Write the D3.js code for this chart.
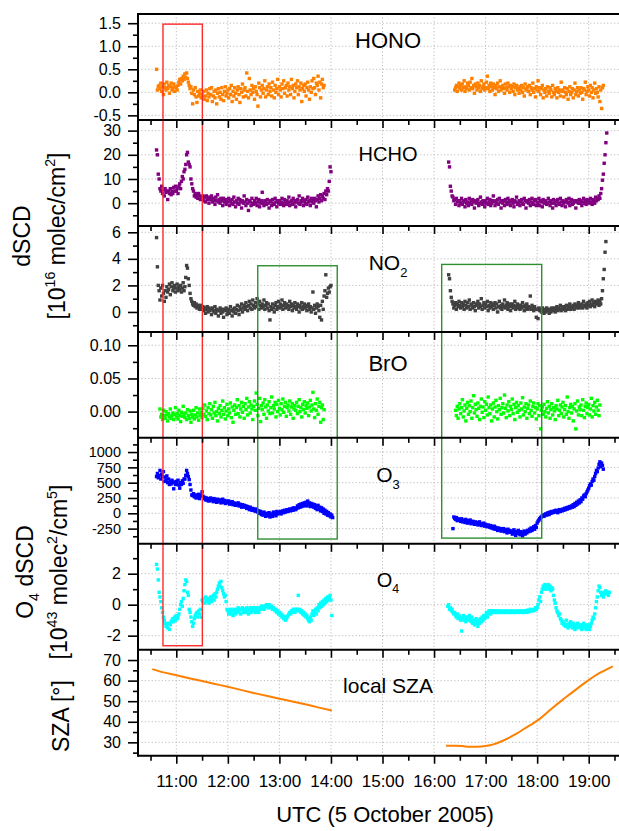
<!DOCTYPE html>
<html>
<head>
<meta charset="utf-8">
<title>dSCD time series, 5 October 2005</title>
<script src="https://d3js.org/d3.v7.min.js"></script>
<style>
  body { margin: 0; background: #fff; }
  svg { display: block; font-family: "Liberation Sans", Arial, sans-serif; }
  .grid line { stroke: #bdbdbd; stroke-width: 1; stroke-dasharray: 1.2,2.2; }
  .tick line { stroke: #000; stroke-width: 1.6; }
  .tick text { font-size: 17px; fill: #000; }
  .frame { stroke: #000; stroke-width: 2; fill: none; }
</style>
</head>
<body>
<div id="chart"></div>
<script>
// ---------------- data (1 value per minute) ----------------
const species = ["HONO", "HCHO", "NO2", "BrO", "O3", "O4"];
const startA = ["10:37", "10:37", "10:37", "10:41", "10:37", "10:37"];
const startB = ["16:24", "16:17", "16:17", "16:25", "16:22", "16:16"];

const honoA = [0.50,0.05,0.12,
  0.15,0.08,0.20,0.02,0.12,-0.05,0.18,0.10,0.05,0.22,
  0.08,0.15,-0.02,0.12,0.20,0.05,0.10,0.18,0.02,0.12,
  0.10,0.05,0.15,0.22,0.28,0.18,0.30,0.25,0.35,0.28,
  0.40,0.32,0.42,0.30,0.22,0.15,0.08,0.12,-0.02,-0.25,
  0.05,-0.05,0.10,-0.10,-0.22,0.02,-0.08,-0.03,0.05,-0.12,
  -0.05,-0.10,0.02,-0.15,-0.08,0.05,-0.18,-0.02,-0.10,0.08,
  -0.05,0.10,-0.20,-0.08,0.02,-0.12,0.05,-0.25,-0.02,0.08,
  -0.10,0.00,-0.15,0.10,-0.05,-0.18,0.02,0.12,-0.08,-0.02,
  0.05,-0.12,0.08,-0.05,0.15,-0.20,0.02,-0.08,0.10,-0.02,
  -0.15,0.05,0.12,-0.05,-0.22,0.08,0.00,0.18,-0.10,0.05,
  0.10,-0.08,0.42,0.02,-0.12,0.30,0.05,-0.05,0.15,0.00,
  0.08,-0.15,0.12,0.02,-0.05,-0.30,0.20,0.10,-0.10,0.05,
  0.15,-0.02,0.08,0.25,-0.10,0.05,0.12,-0.05,0.18,0.02,
  0.10,-0.08,0.22,0.05,-0.12,0.15,0.00,0.08,0.28,-0.05,
  0.12,0.05,-0.10,0.18,0.08,0.25,-0.02,0.10,0.15,-0.08,
  0.20,0.05,0.12,-0.05,0.28,0.08,0.15,-0.12,0.02,0.18,
  0.10,0.25,-0.05,0.12,0.05,0.20,-0.20,0.08,0.15,0.02,
  0.18,-0.08,0.10,0.22,0.05,-0.15,0.12,0.00,0.25,0.08,
  0.30,0.10,-0.05,0.20,0.15,0.35,0.05,0.22,-0.12,0.18,
  0.28,0.10,0.15];
const honoB = [0.05,0.10,0.15,0.02,0.12,0.20,
  0.08,0.15,0.05,0.18,0.10,0.25,0.02,0.12,0.08,0.20,
  0.15,0.05,0.22,0.10,0.30,0.08,0.15,-0.02,0.18,0.12,
  0.05,0.20,0.10,0.15,0.02,0.25,0.08,0.12,0.18,0.05,
  0.10,0.22,0.35,0.08,0.15,0.02,0.20,0.12,0.05,0.18,
  0.10,-0.05,0.15,0.08,0.20,0.02,0.12,0.25,0.05,0.10,
  0.15,0.08,-0.02,0.18,0.10,0.05,0.20,0.12,0.00,0.15,
  0.08,0.12,0.02,0.18,-0.05,0.10,0.15,0.05,0.08,-0.02,
  0.12,0.05,0.15,0.00,0.10,-0.08,0.18,0.05,0.08,0.12,
  0.02,0.15,-0.05,0.10,0.05,0.20,0.00,0.08,-0.10,0.12,
  0.05,0.25,0.02,0.10,-0.05,0.08,0.15,-0.12,0.05,0.00,
  0.08,-0.08,0.12,0.02,-0.02,0.10,0.05,-0.10,0.15,0.00,
  -0.05,0.08,0.02,-0.12,0.10,0.00,0.05,-0.08,0.22,0.02,
  0.05,-0.10,0.10,0.00,-0.05,0.08,-0.15,0.02,0.12,-0.05,
  0.00,0.08,-0.12,0.05,0.20,-0.05,0.02,0.10,-0.08,0.05,
  -0.02,0.10,0.00,-0.15,0.08,0.05,0.22,-0.05,0.02,0.12,
  0.05,-0.08,0.15,0.00,0.10,-0.12,0.05,0.20,-0.02,0.08,
  0.00,-0.10,0.12,-0.20,0.05,-0.35,0.10,0.15];

const hchoA = [22,20,12,
  10,6,5,7,4,5.5,3,6,4.5,5,
  1.5,5,4,6,3.5,5,4,6.5,5,7,
  5,6,4,7,8,6,9,11,10,13,
  14,16,20,21,17,16,15,10,8,6,
  5,3,4,2.5,3.5,2,4,3,1.5,2.5,
  2,3,1,2.5,0.5,3,1.5,2,0,2.5,
  1.5,3,0.5,2,1,-0.5,2.5,1,3.5,0.5,
  1.5,0,2,1,-1,2,0.5,1.5,-0.5,1,
  0.5,2,-1,1,0,1.5,-0.5,2.5,0.5,-1.5,
  1,0,2,-0.5,1.5,0.5,-2,1,0,3,
  0.5,-1,1.5,0,-3,1,0.5,-1,2,0,
  -0.5,1,0,2,-1,0.5,1.5,-1.5,0,1,
  4.5,0,-1,1,0.5,-0.5,1.5,0,-2,1,
  0.5,-1,1.5,0,-0.5,2,0.5,-1.5,1,0,
  1,-0.5,0.5,2,0,-1,1.5,0.5,-0.5,1,
  0,2.5,-1,0.5,1,-0.5,2,0,1,-1.5,
  0.5,1.5,0,3,-0.5,1,0.5,2,-1,1,
  0,1.5,-0.5,2.5,0.5,1,-1,2,0.5,1.5,
  0,2,1,-1.5,1.5,3,0.5,2,3.5,1,
  3,2,4,1.5,5,3.5,6,5,9,15,
  13];
const hchoB = [17,15,7,
  5,3,2.5,1,1.5,-0.5,2,0.5,1,-1,
  1,0,2,-0.5,1,0.5,-1.5,1.5,0,0.5,
  -1,2,0,1,-0.5,1.5,0.5,-2,1,0,
  0.5,1.5,-1,0,2.5,0.5,-0.5,1,0,-1.5,
  1,0,2,-0.5,0.5,1.5,-1,0,1,3,
  0.5,-1,1,0,1.5,-0.5,2,0.5,-2,1,
  0,1,-1,1.5,0.5,-0.5,2,0,1,-1,
  0.5,1.5,0,-1.5,1,0.5,2.5,-0.5,0,1,
  -1,0.5,1.5,0,-0.5,2,1,-2,0.5,1,
  0,1.5,-1,0.5,2,0,-0.5,1,1.5,-1,
  0.5,0,2,-1,1,0.5,-1.5,1.5,0,0.5,
  1,-0.5,0,2,0.5,-1,1,0,-2,1.5,
  0,1,-1,0.5,1.5,0,-0.5,2,0.5,-1,
  1,0,0.5,-1.5,1.5,0.5,0,2,-1,0.5,
  1.5,-0.5,0,1,0.5,-2,1,0.5,0,1.5,
  0,1,-1,0.5,2,0,1,-0.5,1.5,0.5,
  1,0,2,0.5,-0.5,1.5,1,0,2.5,1,
  2,1.5,3,2,4,6,9.5,12,16.5,20,
  25,29];

const no2A = [5.6,3.4,2.0,
  1.6,0.9,1.8,1.2,2.0,1.4,0.8,1.6,1.1,1.9,
  1.5,1.7,2.1,1.3,1.9,2.2,1.6,1.8,2.0,1.5,
  1.8,2.1,1.6,1.9,1.7,2.0,1.5,1.8,2.2,1.6,
  1.9,2.6,3.5,3.3,2.5,2.0,1.4,1.0,0.8,0.6,
  0.5,0.7,0.4,0.6,0.3,0.5,0.4,0.2,0.5,0.3,
  0.2,0.4,0.1,0.3,-0.1,0.2,0.4,0.0,0.3,0.1,
  0.2,-0.2,0.3,0.1,0.0,0.4,-0.1,0.2,0.1,-0.3,
  0.1,0.3,-0.1,0.2,0.0,-0.4,0.2,0.1,0.3,-0.2,
  0.0,0.2,-0.1,0.4,0.1,-0.3,0.2,0.0,0.3,-0.1,
  0.2,0.5,0.1,-0.2,0.4,0.2,0.6,0.0,0.3,0.5,
  0.2,0.7,0.4,0.1,0.5,0.8,0.3,0.6,0.2,0.9,
  0.5,0.3,0.7,0.4,1.0,0.6,0.2,0.8,0.5,0.3,
  0.6,0.4,0.9,0.2,0.5,0.7,0.3,0.6,0.1,-0.6,
  0.4,0.2,0.6,0.3,0.0,0.5,0.7,0.2,0.4,0.8,
  0.3,0.6,0.4,0.9,0.2,0.5,0.7,0.3,0.6,0.4,
  0.5,0.2,0.8,0.4,0.6,0.1,0.5,0.3,0.7,0.4,
  0.2,0.6,0.4,0.0,0.5,0.3,0.7,0.2,0.4,0.6,
  0.3,0.5,0.1,0.4,0.6,0.2,0.4,0.0,0.3,1.5,
  0.2,0.5,-0.1,0.3,0.6,0.4,0.1,-0.4,0.5,-0.6,
  0.8,0.2,1.2,1.6,2.8,1.1,1.4,1.8,1.5,1.9,
  2.0];
const no2B = [2.8,2.5,1.6,
  1.1,0.8,0.6,0.3,0.5,0.7,0.2,0.6,0.4,0.8,
  0.5,0.3,0.7,0.4,0.6,0.2,0.8,0.5,0.3,0.7,
  0.4,0.9,0.2,0.6,0.5,0.3,0.7,0.4,0.1,0.6,
  0.5,0.8,0.3,0.6,0.4,1.0,0.2,0.5,0.7,0.3,
  0.6,0.4,0.8,0.1,0.5,0.3,0.7,0.4,0.6,0.2,
  0.5,0.7,0.3,0.6,0.0,0.4,0.8,0.3,0.5,0.2,
  0.6,0.4,0.9,0.3,0.5,0.7,0.2,0.4,0.6,0.1,
  0.4,0.6,0.3,0.5,0.8,0.2,0.4,0.6,0.3,0.5,
  0.2,0.5,0.3,0.7,0.4,0.1,0.5,0.3,0.6,0.2,
  0.4,0.3,1.2,0.2,0.5,0.3,0.1,0.4,0.2,-0.4,
  0.2,-0.5,0.3,0.1,0.2,0.0,0.3,0.1,-0.1,0.2,
  0.0,0.3,0.1,0.2,-0.1,0.2,0.0,0.3,0.1,0.2,
  0.3,0.0,0.2,0.4,0.1,0.3,0.2,0.5,0.1,0.3,
  0.2,0.4,0.3,0.1,0.5,0.2,0.4,0.3,0.6,0.2,
  0.4,0.3,0.5,0.2,0.6,0.4,0.3,0.5,0.7,0.3,
  0.5,0.4,0.6,0.3,0.8,0.5,0.4,0.6,0.3,0.7,
  0.5,0.8,0.4,0.6,0.9,0.5,0.7,0.4,0.8,0.6,
  0.7,0.9,0.5,0.8,0.6,1.0,1.6,2.5,3.2,4.5,
  5.3];

const broA = [0.004,-0.008,-0.004,-0.012,0.002,-0.006,-0.010,0.000,-0.005,
  -0.014,-0.003,-0.008,0.004,-0.010,-0.006,-0.002,-0.012,-0.004,0.006,
  -0.008,-0.003,-0.011,0.002,-0.006,-0.015,-0.001,-0.007,0.008,-0.004,
  -0.009,-0.002,-0.012,0.003,-0.006,-0.010,0.001,-0.016,-0.004,-0.008,
  0.002,-0.011,-0.005,0.006,-0.008,-0.002,-0.013,0.004,-0.006,-0.001,
  -0.009,0.005,-0.004,0.010,-0.007,0.001,-0.012,0.006,-0.003,0.012,
  -0.005,0.003,-0.010,0.008,-0.002,0.014,-0.006,0.000,-0.014,0.005,
  -0.003,0.009,-0.008,0.002,0.016,-0.004,0.006,-0.011,0.001,0.011,
  -0.006,0.004,-0.002,0.013,-0.009,0.007,-0.016,0.002,0.010,-0.004,
  0.006,0.018,-0.003,0.009,-0.008,0.004,0.014,-0.001,0.008,-0.010,
  0.012,0.003,0.020,-0.005,0.007,0.015,-0.002,0.010,0.004,-0.012,
  0.008,0.016,0.002,0.028,0.011,-0.006,0.005,0.020,-0.015,0.009,
  0.003,0.013,-0.004,0.018,0.007,-0.010,0.010,0.001,0.015,-0.003,
  0.006,0.022,-0.002,0.009,0.004,0.014,-0.008,0.011,0.000,0.017,
  0.005,-0.005,0.012,0.003,0.019,-0.001,0.008,0.014,-0.007,0.006,
  0.010,0.001,0.016,-0.004,0.007,0.012,-0.010,0.004,0.009,0.002,
  0.014,-0.003,0.008,0.018,0.000,0.006,-0.008,0.011,0.003,0.015,
  -0.002,0.009,0.005,0.013,-0.006,0.007,0.017,0.001,0.010,0.029,
  0.004,-0.009,0.012,0.002,0.019,-0.004,0.008,0.014,-0.016,0.006,
  0.010,-0.012,0.003];
const broB = [0.002,-0.006,0.008,-0.010,0.004,
  0.012,-0.003,0.006,0.018,-0.008,0.001,0.010,-0.014,0.005,0.014,
  -0.004,0.009,0.000,0.016,-0.010,0.006,0.024,-0.002,0.011,0.003,
  -0.007,0.013,0.005,-0.012,0.008,0.019,-0.001,0.007,-0.009,0.015,
  0.002,0.011,-0.005,0.022,0.006,-0.003,0.010,-0.014,0.004,0.013,
  -0.008,0.007,0.017,0.000,-0.011,0.009,0.003,0.020,-0.004,0.006,
  0.012,-0.002,0.025,0.005,-0.009,0.010,0.001,0.015,-0.006,0.008,
  0.003,0.019,-0.003,0.011,-0.012,0.006,0.014,-0.001,0.009,0.002,
  -0.008,0.013,0.004,0.021,-0.005,0.007,0.000,0.012,-0.010,0.005,
  0.010,-0.003,0.016,0.002,-0.007,0.008,0.013,-0.002,0.006,-0.011,
  0.004,0.012,-0.006,0.009,-0.026,0.002,0.007,-0.004,0.011,0.000,
  -0.008,0.005,0.015,-0.002,0.008,-0.010,0.003,0.012,-0.005,0.006,
  0.001,-0.012,0.009,0.004,0.017,-0.006,0.002,0.010,-0.003,0.007,
  0.014,-0.008,0.003,0.009,-0.004,0.022,0.000,-0.010,0.006,0.011,
  -0.002,0.008,-0.014,0.004,0.012,-0.026,0.001,0.016,-0.005,0.007,
  0.003,0.010,-0.006,0.018,0.002,-0.009,0.008,0.013,-0.003,0.006,
  0.011,-0.005,0.004,0.020,-0.008,0.009,0.001,0.014,-0.004,0.007,
  0.017,0.002,-0.006,0.010];

const o3A = [600,650,580,
  620,700,560,640,600,680,520,590,540,610,
  500,560,470,520,480,540,500,400,510,470,
  520,480,540,460,410,500,470,530,490,560,
  560,620,700,650,600,550,470,380,300,290,
  320,270,300,250,290,260,310,240,280,300,
  350,280,240,260,220,250,210,240,200,230,
  250,210,230,190,240,220,200,180,230,210,
  190,220,170,200,230,180,210,160,190,200,
  170,200,150,180,160,190,140,170,150,130,
  160,140,170,120,150,130,100,140,110,130,
  100,120,80,110,90,60,100,70,50,80,
  60,40,70,30,50,20,40,0,30,-20,
  10,-30,20,-10,-50,0,-40,-20,10,-60,
  -30,-10,-50,20,-20,0,-40,30,-10,10,
  0,30,-10,20,40,10,50,20,40,60,
  30,50,70,40,60,80,50,90,70,60,
  80,120,90,140,100,150,110,160,120,170,
  130,180,120,200,140,170,110,160,120,150,
  100,140,80,120,60,130,70,100,40,90,
  30,70,0,50,-10,30,-30,10,-40,-10,
  -60,-30,-70];
const o3B = [-250,-60,-80,-100,-70,-120,-90,-110,
  -100,-130,-90,-140,-110,-120,-150,-100,-130,-160,
  -120,-150,-110,-170,-140,-130,-160,-180,-140,-170,
  -150,-190,-160,-140,-180,-200,-170,-190,-160,-210,
  -180,-200,-220,-190,-210,-230,-200,-240,-220,-250,
  -210,-260,-230,-250,-280,-240,-270,-250,-290,-260,
  -280,-250,-300,-270,-290,-320,-260,-300,-280,-310,
  -290,-340,-300,-270,-320,-360,-300,-330,-280,-310,
  -350,-300,-330,-370,-310,-290,-340,-300,-320,-280,
  -300,-260,-290,-240,-280,-250,-220,-260,-200,-230,
  -160,-130,-110,-90,-70,-60,-40,-30,-50,-20,
  -10,-30,0,10,-20,20,0,30,10,20,
  40,20,50,30,10,40,60,30,50,40,
  70,50,80,60,90,70,100,80,110,90,
  120,100,140,110,160,130,180,150,200,170,
  220,190,250,230,280,300,270,320,350,380,
  410,450,480,460,520,560,540,600,650,700,
  680,740,800,840,760,820,780,720];

const o4A = [2.6,2.3,1.6,
  0.8,0.5,0.2,-0.2,-0.5,-0.8,-1.0,-1.2,-1.4,-1.3,
  -1.5,-1.2,-1.6,-1.3,-1.1,-1.0,-0.9,-1.1,-0.8,-1.0,
  -0.7,-0.9,-0.8,-0.6,-0.3,0.0,0.2,-0.1,0.4,0.9,
  1.3,1.6,1.5,0.8,0.6,-0.3,-0.5,-0.8,-1.1,-1.4,
  -1.2,-0.9,-0.7,-0.6,-0.5,-0.8,-0.4,-0.6,-0.3,-0.8,
  0.3,0.2,0.4,0.1,0.5,0.3,0.2,0.4,0.1,0.3,
  0.5,0.2,0.4,0.6,0.3,0.7,0.5,0.8,1.0,1.2,
  1.4,1.2,1.5,1.1,0.9,0.7,0.5,0.6,0.2,-0.3,
  -0.4,-0.6,-0.5,-0.3,-0.6,-0.4,-0.7,-0.3,-0.5,-0.6,
  -0.3,-0.5,-0.2,-0.4,-0.3,-0.6,-0.3,-0.2,-0.5,-0.3,
  -0.3,-0.5,-0.2,-0.4,-0.6,-0.3,-0.2,-0.5,-0.3,-0.2,
  -0.4,-0.2,-0.5,-0.3,-0.2,-0.4,-0.5,-0.2,-0.3,-0.1,
  -0.2,-0.1,-0.3,-0.2,-0.1,0.0,-0.1,-0.2,0.0,-0.1,
  -0.2,-0.1,-0.3,-0.2,-0.3,-0.4,-0.3,-0.5,-0.4,-0.6,
  -0.5,-0.7,-0.6,-0.8,-0.7,-0.9,-0.8,-1.0,-0.9,-0.8,
  -0.7,-0.6,-0.5,-0.6,-0.4,-0.5,-0.3,-0.4,-0.5,-0.3,
  -0.4,-0.3,0.6,-0.4,-0.3,-0.5,-0.4,-0.6,-0.5,-0.7,
  -0.6,-0.8,-0.7,-0.9,-1.0,-1.1,-0.8,-1.0,-0.6,-0.4,
  -0.7,-0.5,-0.3,-0.6,-0.2,-0.4,0.0,-0.2,0.1,-0.1,
  0.2,0.0,0.3,0.1,0.4,0.2,0.5,0.3,0.4,0.6,
  0.3,-0.7];
const o4B = [-0.1,0.0,-0.3,-0.2,
  -0.4,-0.3,-0.5,-0.6,-0.5,-0.7,-0.8,-0.6,-0.9,-0.7,
  -0.8,-1.0,-1.7,-0.9,-0.7,-1.0,-0.8,-1.1,-0.9,-0.8,
  -1.0,-0.7,-0.9,-1.1,-0.8,-1.2,-1.0,-1.3,-1.1,-0.9,
  -1.2,-1.4,-1.0,-1.2,-0.9,-1.1,-0.8,-1.0,-0.7,-0.9,
  -0.7,-0.5,-0.8,-0.6,-0.4,-0.5,-0.6,-0.4,-0.5,-0.4,
  -0.5,-0.4,-0.5,-0.4,-0.5,-0.4,-0.5,-0.45,-0.4,-0.5,
  -0.45,-0.5,-0.4,-0.5,-0.45,-0.4,-0.5,-0.45,-0.5,-0.4,
  -0.5,-0.45,-0.4,-0.5,-0.45,-0.5,-0.4,-0.45,-0.5,-0.4,
  -0.45,-0.5,-0.4,-0.45,-0.5,-0.4,-0.45,-0.4,-0.5,-0.35,
  -0.4,-0.45,-0.3,-0.4,-0.35,-0.4,-0.3,-0.35,-0.2,-0.3,
  -0.2,0.0,0.3,0.5,0.2,0.8,1.0,1.2,1.1,1.3,
  1.0,1.2,1.1,1.3,1.0,1.2,0.9,1.1,1.0,0.6,
  0.3,0.1,-0.2,-0.4,-0.5,-0.7,-0.6,-0.9,-1.0,-1.2,
  -1.1,-1.3,-1.2,-1.4,-1.0,-1.3,-1.5,-1.2,-1.4,-1.1,
  -1.3,-1.5,-1.2,-1.4,-1.6,-1.3,-1.5,-1.2,-1.4,-1.3,
  -1.5,-1.3,-1.6,-1.4,-1.2,-1.5,-1.3,-1.6,-1.4,-1.5,
  -1.3,-1.6,-1.4,-1.2,-1.0,-0.8,-0.9,-0.6,-0.2,0.2,
  0.5,0.9,1.2,1.1,0.8,0.6,0.7,0.5,0.8,0.7,
  0.9,0.7,0.8,0.6,0.8];

const szaTimesA = ["10:32","10:45","11:00","11:15","11:30","11:45","12:00","12:15","12:30","12:45","13:00","13:15","13:30","13:45","14:01"];
const szaA = [65.6,64.0,62.6,61.2,59.8,58.4,57.0,55.5,54.0,52.6,51.2,49.9,48.5,47.0,45.5];
const szaTimesB = ["16:14","16:24","16:33","16:42","16:51","17:00","17:09","17:18","17:27","17:36","17:45","17:54","18:03","18:12","18:21","18:30","18:39","18:48","18:57","19:06","19:15","19:21","19:28"];
const szaB = [28.3,28.4,28.2,27.8,27.8,28.2,29.0,30.4,32.2,34.2,36.6,38.9,41.4,44.6,47.8,50.8,53.7,56.6,59.4,62.0,64.2,65.5,66.9];

const hourTicks = [11, 12, 13, 14, 15, 16, 17, 18, 19];
const halfTicks = [10.5, 11.5, 12.5, 13.5, 14.5, 15.5, 16.5, 17.5, 18.5, 19.5];

const yMajor = [[-0.5, 0, 0.5, 1, 1.5], [0, 10, 20, 30], [0, 2, 4, 6], [0, 0.05, 0.1],
  [-250, 0, 250, 500, 750, 1000], [-2, 0, 2], [30, 40, 50, 60, 70]];
const yMinor = [[-0.25, 0.25, 0.75, 1.25], [-5, 5, 15, 25], [-1, 1, 3, 5], [-0.025, 0.025, 0.075],
  [-375, -125, 125, 375, 625, 875, 1125], [-1, 1, 3], [25, 35, 45, 55, 65]];
const yDecimals = [1, 0, 0, 2, 0, 0, 0];

// highlighted periods: [start, end, top panel, top value, bottom panel, bottom value]
const boxes = [
  ["10:44.5", "11:30.3", 0, 1.48, 5, -2.65],
  ["12:34.8", "14:07.3", 2, 3.48, 4, -420],
  ["16:08.9", "18:05.3", 2, 3.58, 4, -405]
];

// ---------------- layout ----------------
const W = 619, H = 831;
const plotLeft = 138, plotRight = 620, plotTop = 14, panelH = 105.96;
const nPanels = 7;
const colors = ["#ff8000", "#800080", "#404040", "#00ff00", "#0000ff", "#00ffff", "#ff8000"];
const boxColors = ["#ff2a2a", "#2f8f2f", "#2f8f2f"];
const yDomains = [[-0.6, 1.7], [-9.4, 34.4], [-1.5, 6.48], [-0.0395, 0.1202],
  [-498, 1232], [-2.91, 3.93], [23.5, 75.0]];
const yTickFont = [16, 16, 16, 16, 14.5, 16, 16];

const hm = s => { const [h, m] = s.split(":"); return +h + (+m) / 60; };

const svg = d3.select("#chart").append("svg")
  .attr("width", W).attr("height", H);

const x = d3.scaleLinear().domain([10.257, 19.607]).range([plotLeft, plotRight]);
const panelTop = k => plotTop + k * panelH;
const yScales = yDomains.map((dom, k) =>
  d3.scaleLinear().domain(dom).range([panelTop(k) + panelH, panelTop(k)]));

svg.append("clipPath").attr("id", "plotclip")
  .append("rect").attr("x", plotLeft).attr("y", plotTop)
  .attr("width", plotRight - plotLeft).attr("height", nPanels * panelH);

// grid
const grid = svg.append("g").attr("class", "grid");
for (let k = 0; k < nPanels; k++) {
  const y = yScales[k];
  grid.append("g").selectAll("line").data(hourTicks).join("line")
    .attr("x1", d => x(d)).attr("x2", d => x(d))
    .attr("y1", panelTop(k)).attr("y2", panelTop(k) + panelH);
  grid.append("g").selectAll("line").data(yMajor[k]).join("line")
    .attr("x1", plotLeft).attr("x2", plotRight)
    .attr("y1", d => y(d)).attr("y2", d => y(d));
}

// scatter series
const seriesA = [honoA, hchoA, no2A, broA, o3A, o4A];
const seriesB = [honoB, hchoB, no2B, broB, o3B, o4B];
const marks = svg.append("g").attr("clip-path", "url(#plotclip)");
const ms = 3.4;
species.forEach((name, k) => {
  const y = yScales[k];
  [[startA[k], seriesA[k]], [startB[k], seriesB[k]]].forEach(([s, vals]) => {
    const t0 = hm(s);
    marks.append("g").selectAll("rect").data(vals).join("rect")
      .attr("x", (d, i) => x(t0 + i / 60) - ms / 2)
      .attr("y", d => y(d) - ms / 2)
      .attr("width", ms).attr("height", ms)
      .attr("fill", colors[k]);
  });
});

// SZA line
const ySza = yScales[6];
const line = d3.line().x(d => x(d[0])).y(d => ySza(d[1])).curve(d3.curveMonotoneX);
[[szaTimesA, szaA], [szaTimesB, szaB]].forEach(([ts, vs]) => {
  marks.append("path")
    .datum(ts.map((t, i) => [hm(t), vs[i]]))
    .attr("d", line)
    .attr("fill", "none").attr("stroke", colors[6]).attr("stroke-width", 2);
});

// highlight boxes
boxes.forEach((b, i) => {
  const x0 = x(hm(b[0])), x1 = x(hm(b[1]));
  const y0 = yScales[b[2]](b[3]), y1 = yScales[b[4]](b[5]);
  svg.append("rect")
    .attr("x", x0).attr("y", y0).attr("width", x1 - x0).attr("height", y1 - y0)
    .attr("fill", "none").attr("stroke", boxColors[i]).attr("stroke-width", 1.4);
});

// axes
for (let k = 0; k < nPanels; k++) {
  const y = yScales[k];
  const dec = yDecimals[k];
  const ga = svg.append("g").attr("transform", `translate(${plotLeft},0)`);
  ga.call(d3.axisLeft(y).tickValues(yMajor[k]).tickSize(10).tickPadding(7)
    .tickFormat(d => d.toFixed(dec)));
  ga.select(".domain").remove();
  ga.selectAll("text").style("font-size", yTickFont[k] + "px");
  const gm = svg.append("g").attr("transform", `translate(${plotLeft},0)`);
  gm.call(d3.axisLeft(y).tickValues(yMinor[k]).tickSize(5).tickFormat(""));
  gm.select(".domain").remove();

  const yb = panelTop(k) + panelH;
  const last = k === nPanels - 1;
  const gx = svg.append("g").attr("transform", `translate(0,${yb})`);
  gx.call(d3.axisBottom(x).tickValues(hourTicks).tickSize(8).tickPadding(11)
    .tickFormat(d => last ? `${d}:00` : ""));
  gx.select(".domain").remove();
  const gxm = svg.append("g").attr("transform", `translate(0,${yb})`);
  gxm.call(d3.axisBottom(x).tickValues(halfTicks).tickSize(5).tickFormat(""));
  gxm.select(".domain").remove();
}

// frame
const frame = svg.append("g").attr("class", "frame");
frame.append("line").attr("x1", plotLeft).attr("x2", plotLeft)
  .attr("y1", plotTop - 1).attr("y2", panelTop(nPanels) + 1);
frame.append("line").attr("x1", plotRight).attr("x2", plotRight)
  .attr("y1", plotTop).attr("y2", panelTop(nPanels));
for (let k = 0; k <= nPanels; k++) {
  frame.append("line").attr("x1", plotLeft).attr("x2", plotRight)
    .attr("y1", panelTop(k)).attr("y2", panelTop(k));
}

// rich text helper: parts = [[text, "n" | "sup" | "sub"], ...]
function rich(sel, parts, size) {
  const shift = kind => kind === "sup" ? -0.42 * size : kind === "sub" ? 0.3 * size : 0;
  let prev = "n";
  parts.forEach(([s, kind]) => {
    sel.append("tspan")
      .attr("dy", shift(kind) - shift(prev))
      .attr("font-size", kind === "n" ? size : size * 0.62)
      .text(s);
    prev = kind;
  });
}

// panel labels
const labelParts = [
  [["HONO", "n"]], [["HCHO", "n"]], [["NO", "n"], ["2", "sub"]], [["BrO", "n"]],
  [["O", "n"], ["3", "sub"]], [["O", "n"], ["4", "sub"]], [["local SZA", "n"]]
];
const labelSize = [22, 20, 21, 22, 21, 20, 21];
const labelBase = [34.3, 40.7, 44.3, 39.3, 44.4, 42.7, 43.3];
labelParts.forEach((parts, k) => {
  const t = svg.append("text")
    .attr("x", 388).attr("y", panelTop(k) + labelBase[k])
    .attr("text-anchor", "middle").attr("font-size", labelSize[k]);
  rich(t, parts, labelSize[k]);
});

// axis titles
const titles = [
  [30, 236, [["dSCD", "n"]]],
  [65, 236, [["[10", "n"], ["16", "sup"], [" molec/cm", "n"], ["2", "sup"], ["]", "n"]]],
  [32.5, 572, [["O", "n"], ["4", "sub"], [" dSCD", "n"]]],
  [66.5, 572, [["[10", "n"], ["43", "sup"], [" molec", "n"], ["2", "sup"], ["/cm", "n"], ["5", "sup"], ["]", "n"]]],
  [68.5, 716, [["SZA [°]", "n"]]]
];
titles.forEach(([tx, ty, parts]) => {
  const t = svg.append("text")
    .attr("transform", `translate(${tx},${ty}) rotate(-90)`)
    .attr("text-anchor", "middle").attr("font-size", 23);
  rich(t, parts, 23);
});

svg.append("text")
  .attr("x", 385).attr("y", 822)
  .attr("text-anchor", "middle").attr("font-size", 22)
  .text("UTC (5 October 2005)");
</script>
</body>
</html>
